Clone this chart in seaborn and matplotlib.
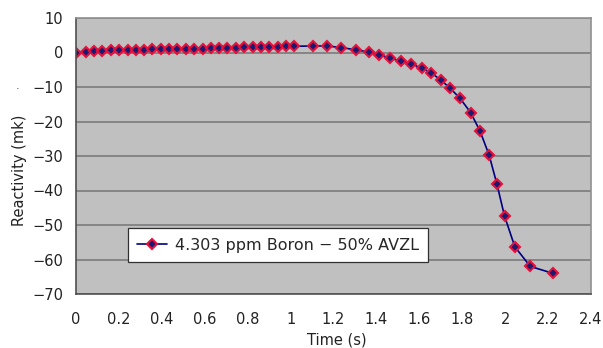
import numpy as np
import pandas as pd
import matplotlib
matplotlib.use("Agg")
import matplotlib.pyplot as plt
import seaborn as sns

# Data
time_s = [0.0, 0.045, 0.084, 0.123, 0.162, 0.201, 0.240, 0.279, 0.317, 0.356,
          0.395, 0.434, 0.473, 0.512, 0.551, 0.590, 0.629, 0.668, 0.706, 0.745,
          0.784, 0.823, 0.862, 0.901, 0.940, 0.979, 1.018,
          1.106, 1.171, 1.236, 1.305, 1.364, 1.414, 1.463, 1.513, 1.563, 1.612,
          1.656, 1.700, 1.743, 1.790, 1.839, 1.883, 1.925, 1.961, 1.997, 2.045,
          2.117, 2.222]
reactivity = [0.0, 0.2, 0.4, 0.5, 0.6, 0.65, 0.75, 0.8, 0.85, 0.9,
              0.95, 1.0, 1.0, 1.05, 1.1, 1.15, 1.2, 1.3, 1.35, 1.4,
              1.45, 1.5, 1.55, 1.6, 1.7, 1.75, 1.8,
              1.9, 1.9, 1.4, 0.8, 0.1, -0.7, -1.6, -2.5, -3.3, -4.6,
              -5.9, -8.0, -10.3, -13.3, -17.4, -22.8, -29.7, -38.0, -47.4, -56.3,
              -62.0, -64.0]
series_name = "4.303 ppm Boron \u2212 50% AVZL"

x_ticks = [0, 0.2, 0.4, 0.6, 0.8, 1.0, 1.2, 1.4, 1.6, 1.8, 2.0, 2.2, 2.4]
x_labels = ["0", "0.2", "0.4", "0.6", "0.8", "1", "1.2", "1.4", "1.6", "1.8", "2", "2.2", "2.4"]
y_ticks = [10, 0, -10, -20, -30, -40, -50, -60, -70]
y_labels = ["10", "0", "\u221210", "\u221220", "\u221230", "\u221240", "\u221250", "\u221260", "\u221270"]

df = pd.DataFrame({"time": time_s, "reactivity": reactivity})

sns.set_style("white", {"axes.facecolor": "#c0c0c0"})
plt.rcParams["font.family"] = ["DejaVu Sans"]

fig = plt.figure(figsize=(6.03, 3.48), dpi=100)
ax = fig.add_axes([76/603, 1 - 294/348, 515/603, 276/348])

sns.lineplot(data=df, x="time", y="reactivity", ax=ax, color="#000080",
             linewidth=1.2, marker="D", markersize=4.8,
             markerfacecolor="#1a1a70", markeredgecolor="#e8103a",
             markeredgewidth=1.5, label=series_name)

ax.set_xlim(0, 2.4)
ax.set_ylim(-70, 10)
ax.set_xticks(x_ticks)
ax.set_xticklabels(x_labels)
ax.set_yticks(y_ticks)
ax.set_yticklabels(y_labels)
ax.set_xlabel("")
ax.set_ylabel("")

# horizontal gridlines only
ax.yaxis.grid(True, color="#808080", linewidth=1.3)
ax.xaxis.grid(False)
ax.set_axisbelow(True)

for side in ["left", "bottom"]:
    ax.spines[side].set_color("#505050")
    ax.spines[side].set_linewidth(1.2)
for side in ["top", "right"]:
    ax.spines[side].set_color("#909090")
    ax.spines[side].set_linewidth(1.2)

ax.tick_params(axis="x", direction="in", length=3, color="#505050",
               labelsize=10.5, pad=13, labelcolor="#222222")
ax.tick_params(axis="y", length=0, labelsize=10.5, pad=9, labelcolor="#222222")

leg = ax.legend(loc="lower left", bbox_to_anchor=(0.1, 0.115), borderaxespad=0,
                frameon=True, fancybox=False, fontsize=11.5, handlelength=1.9,
                handletextpad=0.45, borderpad=0.6)
leg.get_frame().set_edgecolor("#303030")
leg.get_frame().set_facecolor("white")
leg.get_frame().set_alpha(1)
leg.get_frame().set_linewidth(0.9)

fig.text(20/603, 1 - 170/348, "Reactivity (mk)", rotation=90, ha="center",
         va="center", fontsize=10.5, color="#222222")
fig.text(18/603, 1 - 86/348, ".", ha="center", va="center", fontsize=8,
         color="#444444")
fig.text(337/603, 1 - 340/348, "Time (s)", ha="center", va="center",
         fontsize=10.5, color="#222222")

fig.savefig("out.png", dpi=100, facecolor="white")
